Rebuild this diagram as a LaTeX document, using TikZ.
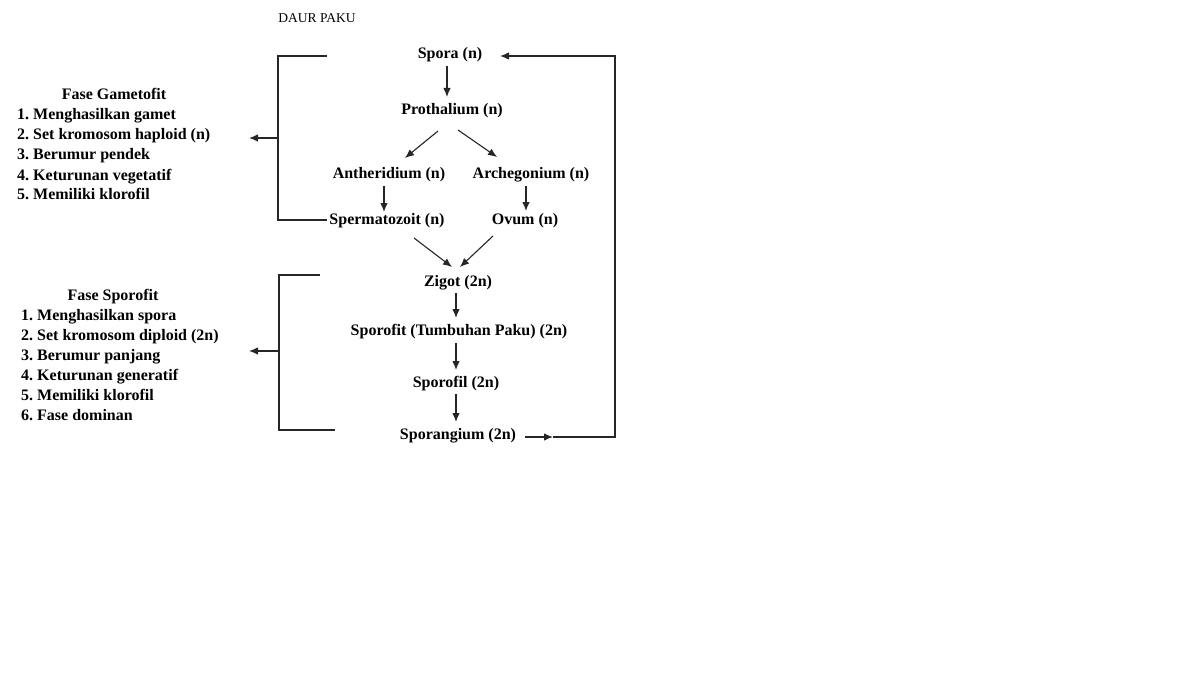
\documentclass[tikz,border=0pt]{standalone}
\usepackage{fontspec}
\setmainfont{Liberation Serif}
\usetikzlibrary{arrows.meta}

\begin{document}
\frenchspacing
\begin{tikzpicture}[x=1pt,y=-1pt,
  lbl/.style={font=\bfseries\fontsize{16}{19}\selectfont,inner sep=1pt},
  arr/.style={draw=black!85,line width=1.1pt,-{Latex[length=9pt,width=7.5pt]}},
  ln/.style={draw=black!85,line width=1.1pt}]

\fill[white] (0,0) rectangle (1200,674);
\useasboundingbox (0,0) rectangle (1200,674);

\node[font=\fontsize{13.5}{16}\selectfont] (judul) at (317,18) {DAUR PAKU};

% siklus
\node[lbl] (spora) at (450,55) {Spora (n)};
\node[lbl] (proth) at (452,111) {Prothalium (n)};
\node[lbl] (anth) at (389,175) {Antheridium (n)};
\node[lbl] (arch) at (531,175) {Archegonium (n)};
\node[lbl] (sperm) at (387,221) {Spermatozoit (n)};
\node[lbl] (ovum) at (525,221) {Ovum (n)};
\node[lbl] (zigot) at (458,283) {Zigot (2n)};
\node[lbl] (sporofit) at (459,332) {Sporofit (Tumbuhan Paku) (2n)};
\node[lbl] (sporofil) at (456,384) {Sporofil (2n)};
\node[lbl] (sporang) at (458,436) {Sporangium (2n)};

\draw[arr] ([shift={(-3,11)}]spora.center) -- ([shift={(-5,-14)}]proth.center);
\draw[arr] ([shift={(-14,20)}]proth.center) -- ([shift={(16,-17)}]anth.center);
\draw[arr] ([shift={(6,19)}]proth.center) -- ([shift={(-34,-18)}]arch.center);
\draw[arr] ([shift={(-5,11)}]anth.center) -- ([shift={(-3,-9)}]sperm.center);
\draw[arr] ([shift={(-5,11)}]arch.center) -- ([shift={(1,-10)}]ovum.center);
\draw[arr] ([shift={(27,17)}]sperm.center) -- ([shift={(-6,-16)}]zigot.center);
\draw[arr] ([shift={(-32,15)}]ovum.center) -- ([shift={(2,-16)}]zigot.center);
\draw[arr] ([shift={(-2,10)}]zigot.center) -- ([shift={(-3,-14)}]sporofit.center);
\draw[arr] ([shift={(-3,11)}]sporofit.center) -- ([shift={(0,-14)}]sporofil.center);
\draw[arr] ([shift={(0,10)}]sporofil.center) -- ([shift={(-2,-14)}]sporang.center);

% kembali ke spora
\coordinate (balik) at (553,437);
\draw[arr] ([shift={(67,1)}]sporang.center) -- (balik);
\draw[arr] (balik) -- (615,437) -- (615,56) -- ([shift={(50,1)}]spora.center);

% fase gametofit
\node[lbl,anchor=base] (gametofit) at (114,100) {Fase Gametofit};
\foreach \t [count=\i] in {Menghasilkan gamet,Set kromosom haploid (n),Berumur pendek,Keturunan vegetatif,Memiliki klorofil}
  \node[lbl,anchor=base west] (g\i) at (16,100+20*\i) {\i. \t};

\coordinate (gatas) at (327,56);
\coordinate (gbawah) at (327,220);
\coordinate (gtengah) at (278,138);
\coordinate (gpanah) at (249,138);
\draw[ln] (gatas) -- (278,56) -- (278,220) -- (gbawah);
\draw[arr] (gtengah) -- (gpanah);

% fase sporofit
\node[lbl,anchor=base] (sporofitfase) at (113,300) {Fase Sporofit};
\foreach \t [count=\i] in {Menghasilkan spora,Set kromosom diploid (2n),Berumur panjang,Keturunan generatif,Memiliki klorofil,Fase dominan}
  \node[lbl,anchor=base west] (s\i) at (20,300+20*\i) {\i. \t};

\coordinate (satas) at (320,275);
\coordinate (sbawah) at (335,430);
\coordinate (stengah) at (279,351);
\coordinate (spanah) at (249,351);
\draw[ln] (satas) -- (279,275) -- (279,430) -- (sbawah);
\draw[arr] (stengah) -- (spanah);

\end{tikzpicture}
\end{document}
